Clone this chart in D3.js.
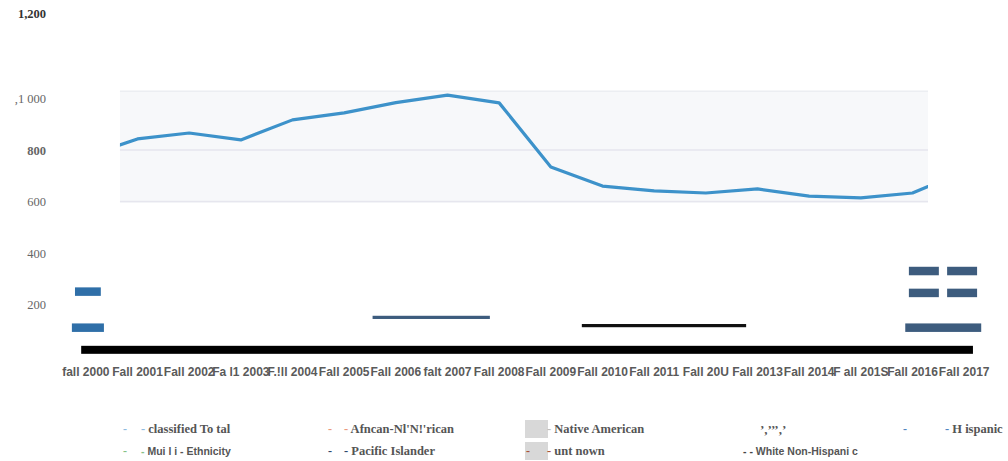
<!DOCTYPE html>
<html>
<head>
<meta charset="utf-8">
<script src="https://cdn.jsdelivr.net/npm/d3@7"></script>
<style>
  html, body { margin: 0; padding: 0; background: #fff; }
  svg { display: block; }
</style>
</head>
<body>
<svg id="chart" width="1008" height="461"></svg>
<script>
// ---- data ----
const categories = ["fall 2000", "Fall 2001", "Fall 2002", "Fa l1 2003", "F.!ll 2004", "Fall 2005",
  "Fall 2006", "falt 2007", "Fall 2008", "Fall 2009", "Fall 2010", "Fall 2011", "Fall 20U",
  "Fall 2013", "Fall 2014", "F all 201S", "Fall 2016", "Fall 2017"];
const years = [2000, 2001, 2002, 2003, 2004, 2005, 2006, 2007, 2008, 2009,
  2010, 2011, 2012, 2013, 2014, 2015, 2016, 2017];
const totalValues = [774, 843, 866, 839, 917, 944, 984, 1008, 983, 734,
  660, 641, 633, 649, 621, 614, 633, 716];

const yTickValues = [200, 400, 600, 800, 1000, 1200];
const yTickLabels = ["200", "400", "600", "800", ",1 000", "1,200"];
const yTickBold = [false, false, false, true, false, true];

// horizontal runs of the smaller groups: series, from year, to year, value
const runSeries = ["Hispanic", "Hispanic", "Pacific Islander", "White Non-Hispanic", "baseline",
  "Pacific Islander", "Pacific Islander", "Pacific Islander", "Pacific Islander", "Pacific Islander"];
const runStart = [1999.79, 1999.73, 2005.55, 2009.60, 1999.91, 2015.93, 2016.67, 2015.93, 2016.67, 2015.86];
const runEnd   = [2000.29, 2000.35, 2007.82, 2012.78, 2017.17, 2016.51, 2017.25, 2016.51, 2017.25, 2017.33];
const runValue = [250, 110, 150, 118, 24, 330, 330, 245, 245, 110];
const runWeight = ["block", "block", "thin", "thin", "bar", "block", "block", "block", "block", "block"];

// visible window of the total line
const panelYears = [2000.66, 2016.30];
const panelValues = [594, 1018];
const gridValues = [600, 800];

// legend entries
const legendLabels = ["classified To tal", "Afncan-Nl'N!'rican", "Native American", "\u2019,\u2019\u2019\u2019,\u2019", "H ispanic",
  "Mui l i - Ethnicity", "Pacific Islander", "unt nown", "White Non-Hispani c"];
const legendColors = ["#8fbbe0", "#eb9a7e", "#bdbdbd", null, "#4f86c0",
  "#86c287", "#2d4a6c", "#a9553a", "#444444"];

// ---- drawing ----
const svg = d3.select("#chart");

const x = d3.scaleBand().domain(categories).range([60, 990]).paddingInner(0).paddingOuter(0);
const xc = c => x(c) + x.bandwidth() / 2;
const xYear = d3.scaleLinear().domain([years[0], years[years.length - 1]])
  .range([xc(categories[0]), xc(categories[categories.length - 1])]);
const y = d3.scaleLinear().domain([0, 1000, 1200]).range([356, 98.5, 13.5]);

// y axis labels
const yAxis = d3.axisLeft(y).tickValues(yTickValues)
  .tickFormat((d, i) => yTickLabels[i]).tickSize(0).tickPadding(0);
const gy = svg.append("g").attr("transform", "translate(46,0)").call(yAxis);
gy.select(".domain").remove();
gy.selectAll("text")
  .attr("font-family", "'Liberation Serif', 'DejaVu Serif', serif")
  .attr("font-size", 12.5)
  .attr("font-weight", (d, i) => yTickBold[i] ? "bold" : "normal")
  .attr("fill", (d, i) => i === 5 ? "#333" : "#666");

// panel behind the total line
const px0 = xYear(panelYears[0]), px1 = xYear(panelYears[1]);
const py0 = y(panelValues[1]), py1 = y(panelValues[0]);
svg.append("rect").attr("x", px0).attr("y", py0).attr("width", px1 - px0).attr("height", py1 - py0)
  .attr("fill", "#f7f8fa");
svg.append("line").attr("x1", px0).attr("x2", px1).attr("y1", py0 + 0.5).attr("y2", py0 + 0.5)
  .attr("stroke", "#eceef2").attr("stroke-width", 1.5);
svg.selectAll("line.grid").data(gridValues).join("line").attr("class", "grid")
  .attr("x1", px0).attr("x2", px1)
  .attr("y1", d => y(d)).attr("y2", d => y(d))
  .attr("stroke", "#e6e6ee").attr("stroke-width", 1.5);

svg.append("clipPath").attr("id", "panelClip")
  .append("rect").attr("x", px0).attr("y", py0).attr("width", px1 - px0).attr("height", py1 - py0);

const line = d3.line().x((d, i) => xc(categories[i])).y(d => y(d));
svg.append("path").datum(totalValues)
  .attr("clip-path", "url(#panelClip)")
  .attr("d", line)
  .attr("fill", "none")
  .attr("stroke", "#3d92ca")
  .attr("stroke-width", 3.2)
  .attr("stroke-linejoin", "round");

// horizontal runs
const runColor = {
  "Hispanic": "#2f6fa8",
  "Pacific Islander": "#3d5c7e",
  "White Non-Hispanic": "#111111",
  "baseline": "#000000"
};
const weightPx = { block: 8.5, thin: 3.2, bar: 8 };
const runs = runSeries.map((s, i) => ({ s, a: runStart[i], b: runEnd[i], v: runValue[i], w: runWeight[i] }));
svg.selectAll("rect.run").data(runs).join("rect").attr("class", "run")
  .attr("x", d => xYear(d.a))
  .attr("width", d => xYear(d.b) - xYear(d.a))
  .attr("y", d => y(d.v) - weightPx[d.w] / 2)
  .attr("height", d => weightPx[d.w])
  .attr("fill", d => runColor[d.s]);

// x axis labels
const xAxis = d3.axisBottom(x).tickSize(0).tickPadding(0);
const gx = svg.append("g").attr("transform", "translate(0,367)").call(xAxis);
gx.select(".domain").remove();
gx.selectAll("text")
  .attr("font-family", "'Liberation Sans', Arial, sans-serif")
  .attr("font-size", 12)
  .attr("font-weight", "bold")
  .attr("fill", "#5a5a5a");

// legend
const serif = "'Liberation Serif', 'DejaVu Serif', serif";
const sans = "'Liberation Sans', Arial, sans-serif";
const legendSlots = [
  { mx: 123, tx: 141, ty: 429, font: serif, size: 12.5 },
  { mx: 328, tx: 344, ty: 429, font: serif, size: 12.5 },
  { mx: null, box: 525, tx: 547, ty: 429, font: serif, size: 12.5 },
  { mx: null, tx: 760, ty: 429, font: serif, size: 13, plain: true },
  { mx: 903, tx: 945, ty: 429, font: serif, size: 12.5 },
  { mx: 123, tx: 141, ty: 451, font: sans, size: 10.5 },
  { mx: 328, tx: 344, ty: 451, font: serif, size: 12.5 },
  { mx: 526, box: 525, tx: 547, ty: 451, font: serif, size: 12.5 },
  { mx: null, tx: 743, ty: 451, font: sans, size: 10.5, twoDash: true }
];
const lg = svg.append("g");
legendSlots.forEach((slot, i) => {
  const col = legendColors[i];
  if (slot.box != null) {
    lg.append("rect").attr("x", slot.box).attr("y", slot.ty - 9).attr("width", 23).attr("height", 18)
      .attr("fill", "#d8d8d8");
  }
  if (slot.mx != null) {
    lg.append("text").attr("x", slot.mx).attr("y", slot.ty).attr("dy", "0.35em")
      .attr("font-family", serif).attr("font-size", 12).attr("font-weight", "bold")
      .attr("fill", col).text("-");
  }
  const t = lg.append("text").attr("x", slot.tx).attr("y", slot.ty).attr("dy", "0.35em")
    .attr("font-family", slot.font).attr("font-size", slot.size).attr("font-weight", "bold")
    .attr("fill", "#555");
  if (slot.plain) {
    t.text(legendLabels[i]);
  } else if (slot.twoDash) {
    t.append("tspan").attr("fill", col).text("- - ");
    t.append("tspan").text(legendLabels[i]);
  } else {
    t.append("tspan").attr("fill", col).text("- ");
    t.append("tspan").text(legendLabels[i]);
  }
});
</script>
</body>
</html>
